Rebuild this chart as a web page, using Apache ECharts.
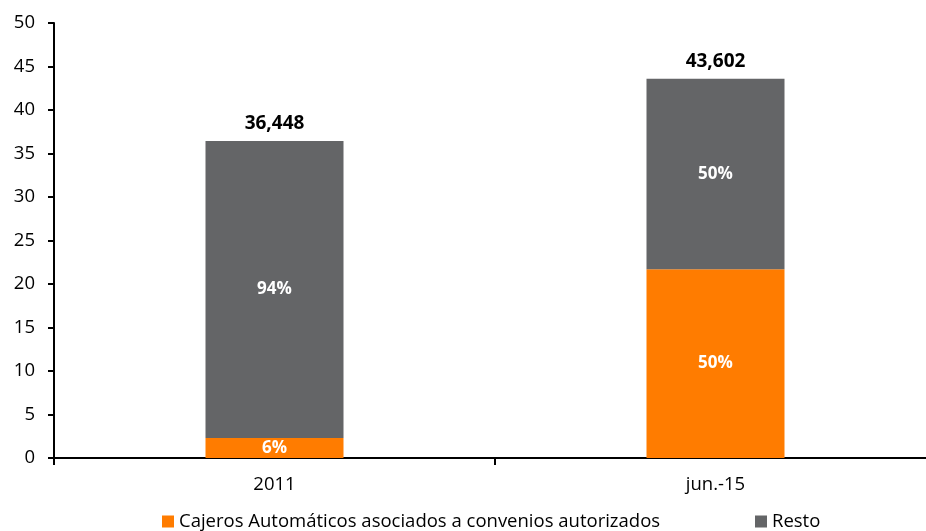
<!DOCTYPE html>
<html>
<head>
<meta charset="utf-8">
<script src="https://cdn.jsdelivr.net/npm/echarts@6/dist/echarts.min.js"></script>
<style>
  html, body { margin: 0; padding: 0; background: #fff; }
  #chart { width: 926px; height: 531px; }
</style>
</head>
<body>
<div id="chart"></div>
<script>
// Categories and values (thousands of ATMs)
const categories = ['2011', 'jun.-15'];
const totals = [36.448, 43.602];
const convenios = [2.3, 21.7];
const resto = totals.map((t, i) => +(t - convenios[i]).toFixed(3));
const seriesNames = ['Cajeros Automáticos asociados a convenios autorizados', 'Resto'];
const yTicks = { min: 0, max: 50, interval: 5 };

const FONT = '"Open Sans", sans-serif';
const fmtTotal = v => v.toFixed(3).replace('.', ',');
const pct = (v, i) => Math.round(v / totals[i] * 100) + '%';

const insideLabel = {
  show: true,
  position: 'inside',
  color: '#fff',
  fontWeight: 'bold',
  fontSize: 17,
  fontFamily: FONT
};

const legendBase = {
  top: 512,
  itemWidth: 12,
  itemHeight: 12,
  icon: 'rect',
  padding: 0,
  textStyle: { fontSize: 18.5, color: '#000', fontFamily: FONT }
};

const chart = echarts.init(document.getElementById('chart'));
chart.setOption({
  animation: false,
  grid: { left: 54, top: 23, width: 882, height: 435, containLabel: false, outerBoundsMode: 'none' },
  legend: [
    Object.assign({}, legendBase, { data: [seriesNames[0]], left: 162 }),
    Object.assign({}, legendBase, { data: [seriesNames[1]], left: 755 })
  ],
  xAxis: {
    type: 'category',
    data: categories,
    axisLine: { lineStyle: { color: '#000', width: 2 } },
    axisTick: { show: true, length: 7, lineStyle: { color: '#000', width: 2 } },
    axisLabel: { fontSize: 18.5, color: '#000', fontFamily: FONT, margin: 17 }
  },
  yAxis: {
    type: 'value',
    min: yTicks.min,
    max: yTicks.max,
    interval: yTicks.interval,
    splitLine: { show: false },
    axisLine: { show: true, lineStyle: { color: '#000', width: 2 } },
    axisTick: { show: true, length: 6, lineStyle: { color: '#000', width: 2 } },
    axisLabel: { fontSize: 18.5, color: '#000', fontFamily: FONT, margin: 19 }
  },
  series: [
    {
      name: seriesNames[0],
      type: 'bar',
      stack: 'total',
      barWidth: 138,
      data: convenios,
      itemStyle: { color: '#FF7C00' },
      label: Object.assign({}, insideLabel, { formatter: p => pct(p.value, p.dataIndex) })
    },
    {
      name: seriesNames[1],
      type: 'bar',
      stack: 'total',
      barWidth: 138,
      data: resto,
      itemStyle: { color: '#646567' },
      label: Object.assign({}, insideLabel, { formatter: p => pct(p.value, p.dataIndex) })
    },
    {
      name: 'Total',
      type: 'bar',
      barWidth: 138,
      barGap: '-100%',
      data: totals,
      itemStyle: { color: 'rgba(0,0,0,0)' },
      silent: true,
      z: 1,
      label: {
        show: true,
        position: 'top',
        distance: 8,
        color: '#000',
        fontWeight: 'bold',
        fontSize: 19,
        fontFamily: FONT,
        formatter: p => fmtTotal(p.value)
      }
    }
  ]
});
</script>
</body>
</html>
